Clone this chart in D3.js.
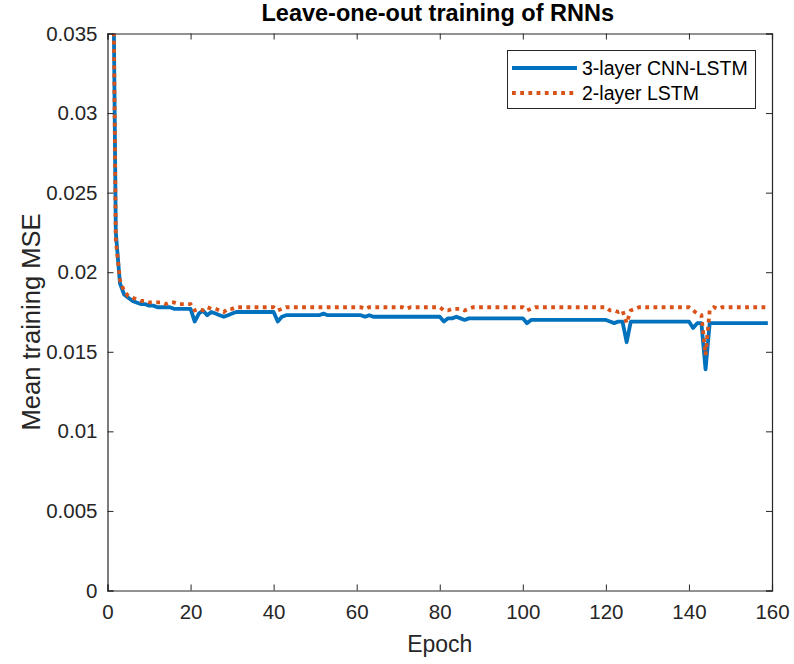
<!DOCTYPE html>
<html>
<head>
<meta charset="utf-8">
<script src="https://cdn.jsdelivr.net/npm/d3@7"></script>
<style>
  html, body { margin: 0; padding: 0; background: #fff; }
  svg { display: block; font-family: "Liberation Sans", Arial, Helvetica, sans-serif; }
</style>
</head>
<body>
<svg id="chart" width="794" height="664"></svg>
<script>
// ---- Data ----
const titleText = "Leave-one-out training of RNNs";
const xLabel = "Epoch";
const yLabel = "Mean training MSE";
const seriesNames = ["3-layer CNN-LSTM", "2-layer LSTM"];
const xTicks = [0, 20, 40, 60, 80, 100, 120, 140, 160];
const yTicks = [0, 0.005, 0.01, 0.015, 0.02, 0.025, 0.03, 0.035];

// epochs 1..159
const cnnLstm = [
  0.0500, 0.0225, 0.0193, 0.0186, 0.0184, 0.0182, 0.0181, 0.0180, 0.0180, 0.0179, // 1-10
  0.0179, 0.0178, 0.0178, 0.0178, 0.0178, 0.0177, 0.0177, 0.0177, 0.0177, 0.0177, // 11-20
  0.0169, 0.0174, 0.0176, 0.0173, 0.0175, 0.0174, 0.0173, 0.0172, 0.0173, 0.0174, // 21-30
  0.0175, 0.0175, 0.0175, 0.0175, 0.0175, 0.0175, 0.0175, 0.0175, 0.0175, 0.0175, // 31-40
  0.0169, 0.0172, 0.0173, 0.0173, 0.0173, 0.0173, 0.0173, 0.0173, 0.0173, 0.0173, // 41-50
  0.0173, 0.0174, 0.0173, 0.0173, 0.0173, 0.0173, 0.0173, 0.0173, 0.0173, 0.0173, // 51-60
  0.0173, 0.0172, 0.0173, 0.0172, 0.0172, 0.0172, 0.0172, 0.0172, 0.0172, 0.0172, // 61-70
  0.0172, 0.0172, 0.0172, 0.0172, 0.0172, 0.0172, 0.0172, 0.0172, 0.0172, 0.0172, // 71-80
  0.0169, 0.0171, 0.0171, 0.0172, 0.0171, 0.0170, 0.0171, 0.0171, 0.0171, 0.0171, // 81-90
  0.0171, 0.0171, 0.0171, 0.0171, 0.0171, 0.0171, 0.0171, 0.0171, 0.0171, 0.0171, // 91-100
  0.0168, 0.0170, 0.0170, 0.0170, 0.0170, 0.0170, 0.0170, 0.0170, 0.0170, 0.0170, // 101-110
  0.0170, 0.0170, 0.0170, 0.0170, 0.0170, 0.0170, 0.0170, 0.0170, 0.0170, 0.0170, // 111-120
  0.0169, 0.0168, 0.0169, 0.0169, 0.0156, 0.0169, 0.0169, 0.0169, 0.0169, 0.0169, // 121-130
  0.0169, 0.0169, 0.0169, 0.0169, 0.0169, 0.0169, 0.0169, 0.0169, 0.0169, 0.0169, // 131-140
  0.0165, 0.0168, 0.0168, 0.0139, 0.0168, 0.0168, 0.0168, 0.0168, 0.0168, 0.0168, // 141-150
  0.0168, 0.0168, 0.0168, 0.0168, 0.0168, 0.0168, 0.0168, 0.0168, 0.0168          // 151-159
];
const lstm2 = [
  0.0500, 0.0220, 0.0195, 0.0188, 0.0185, 0.0184, 0.0183, 0.0182, 0.0182, 0.0181, // 1-10
  0.0181, 0.0181, 0.0181, 0.0180, 0.0181, 0.0181, 0.0180, 0.0180, 0.0180, 0.0180, // 11-20
  0.0176, 0.0177, 0.0176, 0.0178, 0.0177, 0.0177, 0.0176, 0.0175, 0.0177, 0.0177, // 21-30
  0.0178, 0.0178, 0.0178, 0.0178, 0.0178, 0.0178, 0.0178, 0.0178, 0.0178, 0.0178, // 31-40
  0.0176, 0.0177, 0.0178, 0.0178, 0.0178, 0.0178, 0.0178, 0.0178, 0.0178, 0.0178, // 41-50
  0.0178, 0.0178, 0.0178, 0.0178, 0.0178, 0.0178, 0.0178, 0.0178, 0.0178, 0.0178, // 51-60
  0.0178, 0.0177, 0.0178, 0.0178, 0.0178, 0.0178, 0.0178, 0.0178, 0.0178, 0.0178, // 61-70
  0.0178, 0.0177, 0.0178, 0.0178, 0.0178, 0.0178, 0.0178, 0.0178, 0.0178, 0.0178, // 71-80
  0.0176, 0.0176, 0.0177, 0.0177, 0.0177, 0.0176, 0.0177, 0.0178, 0.0178, 0.0178, // 81-90
  0.0178, 0.0178, 0.0178, 0.0178, 0.0178, 0.0178, 0.0178, 0.0178, 0.0178, 0.0178, // 91-100
  0.0176, 0.0177, 0.0178, 0.0178, 0.0178, 0.0178, 0.0178, 0.0178, 0.0178, 0.0178, // 101-110
  0.0178, 0.0178, 0.0178, 0.0178, 0.0178, 0.0178, 0.0178, 0.0178, 0.0178, 0.0178, // 111-120
  0.0176, 0.0176, 0.0175, 0.0176, 0.0168, 0.0176, 0.0177, 0.0178, 0.0178, 0.0178, // 121-130
  0.0178, 0.0178, 0.0178, 0.0178, 0.0178, 0.0178, 0.0178, 0.0178, 0.0178, 0.0178, // 131-140
  0.0176, 0.0174, 0.0173, 0.0148, 0.0176, 0.0178, 0.0177, 0.0178, 0.0178, 0.0178, // 141-150
  0.0178, 0.0178, 0.0178, 0.0178, 0.0178, 0.0178, 0.0178, 0.0178, 0.0178          // 151-159
];

// ---- Layout ----
const svg = d3.select("#chart");
const L = 107.5, R = 772, T = 33.5, B = 590.5;
const axisColor = "#262626";
const blue = "#0072BD", orange = "#D95319";

const x = d3.scaleLinear().domain([0, 160]).range([L, R]);
const y = d3.scaleLinear().domain([0, 0.035]).range([B, T]);

const defs = svg.append("defs");
defs.append("clipPath").attr("id", "plotclip")
  .append("rect").attr("x", L).attr("y", T).attr("width", R - L).attr("height", B - T);

// lines
const line = d3.line().x((d, i) => x(i + 1)).y(d => y(d));
const g = svg.append("g").attr("clip-path", "url(#plotclip)");
g.append("path").datum(cnnLstm).attr("d", line)
  .attr("fill", "none").attr("stroke", blue).attr("stroke-width", 3.8)
  .attr("stroke-linejoin", "round");
g.append("path").datum(lstm2).attr("d", line)
  .attr("fill", "none").attr("stroke", orange).attr("stroke-width", 3.8)
  .attr("stroke-dasharray", "3.8,4.4");

// axes (MATLAB box with inward ticks)
const tickLen = 6;
const fmtY = d => d === 0 ? "0" : d3.format(".3~f")(d);

const xAxisB = svg.append("g").attr("transform", `translate(0,${B})`)
  .call(d3.axisBottom(x).tickValues(xTicks).tickSize(-tickLen).tickPadding(14).tickFormat(d3.format("d")));
const xAxisT = svg.append("g").attr("transform", `translate(0,${T})`)
  .call(d3.axisTop(x).tickValues(xTicks).tickSize(-tickLen).tickFormat(""));
const yAxisL = svg.append("g").attr("transform", `translate(${L},0)`)
  .call(d3.axisLeft(y).tickValues(yTicks).tickSize(-tickLen).tickPadding(10).tickFormat(fmtY));
const yAxisR = svg.append("g").attr("transform", `translate(${R},0)`)
  .call(d3.axisRight(y).tickValues(yTicks).tickSize(-tickLen).tickFormat(""));

[xAxisB, xAxisT, yAxisL, yAxisR].forEach(a => {
  a.select(".domain").attr("stroke", axisColor).attr("stroke-width", 1.2);
  a.selectAll(".tick line").attr("stroke", axisColor).attr("stroke-width", 1);
  a.selectAll(".tick text").attr("fill", axisColor).style("font-size", "20.5px")
    .style("font-family", "'Liberation Sans', Arial, sans-serif");
});

// title and labels
svg.append("text").attr("x", (L + R) / 2 - 2).attr("y", 21).attr("text-anchor", "middle")
  .style("font-size", "23.5px").style("font-weight", "bold").attr("fill", "#000")
  .text(titleText);
svg.append("text").attr("x", (L + R) / 2).attr("y", 652).attr("text-anchor", "middle")
  .style("font-size", "23px").attr("fill", axisColor).text(xLabel);
svg.append("text").attr("transform", `translate(40,${(T + B) / 2 + 10}) rotate(-90)`)
  .attr("text-anchor", "middle").style("font-size", "25.5px").attr("fill", axisColor).text(yLabel);

// legend
const lg = svg.append("g");
lg.append("rect").attr("x", 507.5).attr("y", 50.5).attr("width", 248).attr("height", 58)
  .attr("fill", "#fff").attr("stroke", axisColor).attr("stroke-width", 1);
const rows = [
  { name: seriesNames[0], color: blue, dash: null, yy: 68 },
  { name: seriesNames[1], color: orange, dash: "3.8,4.4", yy: 93 }
];
rows.forEach(r => {
  const ln = lg.append("line").attr("x1", 512).attr("x2", 577).attr("y1", r.yy).attr("y2", r.yy)
    .attr("stroke", r.color).attr("stroke-width", 3.8);
  if (r.dash) ln.attr("stroke-dasharray", r.dash);
  lg.append("text").attr("x", 582).attr("y", r.yy).attr("dy", "0.35em")
    .style("font-size", "19.5px").attr("fill", "#000").text(r.name);
});
</script>
</body>
</html>
